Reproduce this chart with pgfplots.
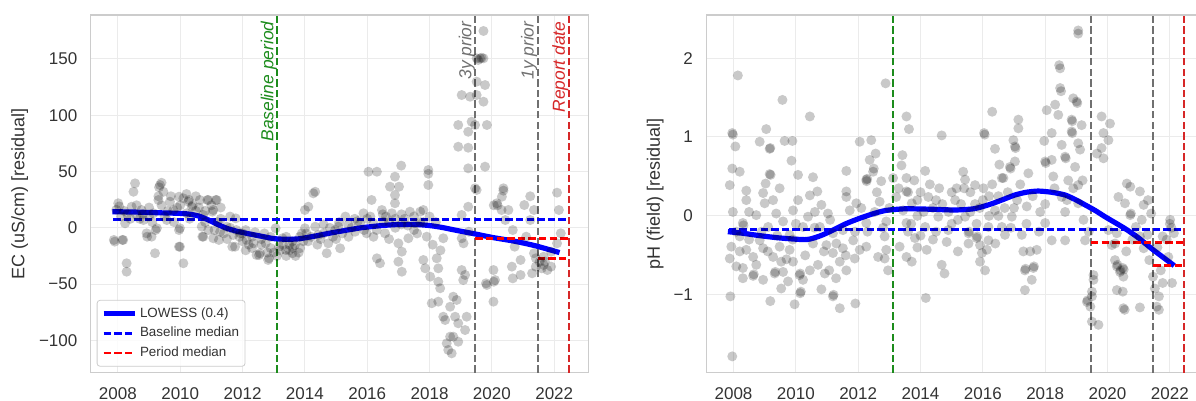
\documentclass[border=0pt]{standalone}
\usepackage{fontspec}
\setmainfont{Liberation Sans}
\usepackage{pgfplots}
\usepackage{pgfplotstable}
\pgfplotsset{compat=1.18}
\definecolor{tickc}{HTML}{333333}
\definecolor{framec}{HTML}{CCCCCC}
\definecolor{gridc}{HTML}{EBEBEB}
\definecolor{bgreen}{HTML}{1C8C1C}
\definecolor{lgray}{HTML}{707070}
\definecolor{rred}{HTML}{D62728}
\definecolor{pred}{HTML}{FF0000}
\definecolor{lblue}{HTML}{0000FF}

\pgfplotstableread{
x y
2008.01 21.8
2007.90 -12.3
2008.17 -10.8
2008.28 -31.5
2008.28 -39
2008.55 39.5
2008.50 32
2008.44 18.7
2008.23 4
2008.60 11.4
2008.82 6.9
2008.92 -4.9
2008.76 15.8
2009.14 12.9
2009.08 -7.9
2009.19 -22.6
2009.35 38
2009.46 32
2009.30 24.7
2009.25 -0.4
2009.67 23.2
2009.78 15.8
2009.57 6.9
2009.99 -0.4
2009.99 -16.8
2010.10 -31.5
2010.10 26.2
2010.26 23.2
2010.37 18.7
2010.21 12.9
2010.63 24.7
2010.74 11.4
2010.69 1
2010.74 -7.9
2010.90 24.7
2011.06 15.8
2011.17 24.7
2011.28 -3.5
2011.06 -9.3
2011.49 1
2011.70 -6.4
2011.92 -4.9
2011.76 -16.8
2012.13 -10.8
2012.45 -24.2
2012.35 -13.8
2009.32 36
2009.40 40
2008.04 19
2007.95 16
2010.28 24.7
2009.96 27.6
2010.87 24.7
2011.14 24.7
2011.03 14.3
2011.78 8.4
2009.96 -2
2009.96 -16.8
2009.21 -2
2008.94 -7.9
2010.71 -7.9
2011.24 -10.8
2011.67 -16.8
2012.53 -24.2
2012.85 -27.1
2013.17 -16.8
2013.39 -19.7
2013.60 -22.6
2013.28 -9.3
2012.74 -13.8
2012.31 -7.9
2012.10 -2
2013.06 -0.4
2008.14 -10.8
2007.87 -10.8
2012.56 -22.6
2012.82 -28.6
2013.30 -15
2013.50 -20
2013.70 -25
2013.85 -18
2013.95 -12
2013.40 -8
2013.60 -12
2014.05 -5
2008.30 12
2008.70 8
2009.00 10
2009.40 20
2009.60 15
2009.90 18
2010.40 20
2010.50 15
2010.80 5
2011.10 -2
2011.40 -5
2011.60 0
2011.90 -8
2012.00 -12
2012.20 -15
2012.60 -10
2012.90 -18
2013.00 -22
2012.70 -5
2011.30 8
2010.90 -2
2008.10 10
2008.20 15
2008.40 8
2008.60 20
2008.80 12
2009.00 18
2009.10 5
2009.30 28
2009.50 10
2009.70 28
2009.80 5
2010.00 20
2010.20 30
2010.30 8
2010.50 28
2010.60 18
2010.80 15
2011.00 20
2011.20 5
2011.30 18
2011.50 -10
2011.60 10
2011.80 -2
2012.00 -5
2012.10 -20
2012.30 -18
2012.40 -4
2012.60 -15
2012.80 -22
2012.90 -8
2013.10 -25
2013.20 -20
2013.40 -25
2013.50 -15
2013.60 -18
2013.80 -22
2013.90 -5
2014.10 -12
2014.20 -8
2014.40 -15
2014.60 -5
2014.80 0
2015.00 -10
2015.10 5
2015.40 -8
2015.60 8
2015.90 -2
2016.10 10
2016.20 -8
2016.50 12
2016.70 -10
2016.90 8
2017.10 12
2017.30 2
2017.50 10
2017.60 -5
2017.80 5
2018.10 -15
2018.20 5
2018.35 -20
2013.68 -15.3
2013.84 -7.9
2014.11 18.7
2014.27 30.6
2014.00 -0.4
2014.43 -6.4
2014.70 -22.6
2014.75 -13.8
2015.07 1
2015.13 -18.2
2015.39 2.5
2015.61 -3.5
2015.88 12.9
2015.98 -4.9
2016.14 24.7
2016.31 -27.1
2016.41 -31.5
2016.52 5.4
2016.57 -4.9
2016.79 12.9
2016.89 21.8
2016.89 29.1
2017.00 -13.8
2017.11 -21.2
2017.00 -30.1
2017.11 -39
2017.32 -9.3
2017.37 14.3
2017.53 4
2017.80 15.8
2017.80 -28.6
2017.91 -7.9
2017.86 -36
2018.02 -43.4
2018.23 -27.1
2018.28 -36
2018.28 -47.9
2018.34 -53.7
2018.07 -67
2018.28 -65.6
2018.44 -79
2018.50 -81.9
2018.55 -102.6
2018.60 -108.5
2018.71 -111.5
2018.66 -96.7
2018.66 -70.1
2018.82 -79
2018.87 -64.1
2018.76 -61.2
2018.92 -84.8
2019.03 -37.5
2019.08 -46.4
2019.19 -79
2019.14 -90.8
2018.92 -101.2
2018.76 -96.7
2019.14 -41.9
2019.24 18.7
2019.03 11.4
2019.03 -9.3
2018.44 -9.3
2017.70 14.3
2016.47 15.8
2016.20 4
2015.77 4
2014.97 -2
2014.33 1
2014.00 15.8
2020.05 -37.5
2019.84 -50.8
2020.10 -46.4
2020.05 -65.6
2020.16 21.8
2020.32 27.6
2020.53 15.8
2020.64 -34.5
2019.51 33.6
2014.50 -10
2014.90 -8
2015.20 -5
2015.50 0
2015.70 6
2016.00 8
2016.30 -2
2016.60 10
2016.90 0
2017.20 8
2017.50 -2
2017.70 5
2018.00 10
2014.60 3
2015.30 10
2016.70 5
2017.10 3
2014.33 32
2016.04 49.8
2016.31 49.8
2016.89 45.4
2017.09 55.2
2016.73 36.5
2017.02 36.5
2017.96 51.3
2017.96 48
2017.96 38
2019.24 52.8
2019.78 54.3
2018.92 72
2019.24 71.1
2018.92 91.3
2019.24 85.3
2019.35 94.2
2019.46 91.3
2019.84 91.3
2019.03 117.9
2019.30 116.4
2019.51 117.9
2019.73 112
2019.78 126.8
2019.51 129.8
2019.62 150.5
2019.73 150.5
2019.51 150.5
2019.56 149
2019.67 151
2019.73 174.8
2019.46 35.1
2020.37 35.1
2020.06 20
2020.18 20
2020.31 15.8
2020.43 6.9
2020.67 -2
2020.73 -16.8
2020.92 -28.6
2020.67 -44.9
2020.06 -47.9
2019.81 -49.3
2021.10 -7.9
2021.23 6.9
2021.35 15.8
2021.04 20.2
2021.35 -22.6
2021.41 -27.1
2021.53 -30.1
2021.66 -33
2021.78 -37.5
2021.90 -34.5
2021.66 -25.7
2021.90 -21.2
2022.09 -13.8
2022.21 -4.9
2022.15 15.8
2021.29 -40.4
2021.41 -34.5
2020.92 -41.9
2020.37 33
2022.09 31.2
2021.23 28
2019.09 -13.8
2019.26 -3.5
2021.60 -36
2021.70 -30
}\ECpts

\pgfplotstableread{
x y
2008.14 1.78
2007.96 1.05
2007.98 1.03
2008.06 0.88
2007.96 0.60
2008.20 0.56
2007.88 0.39
2008.41 0.32
2009.05 1.10
2008.84 0.94
2009.16 0.85
2009.18 0.86
2009.57 1.47
2009.64 0.95
2009.89 0.95
2009.86 0.70
2009.16 0.53
2009.19 0.52
2010.07 0.52
2010.55 0.49
2010.45 1.26
2009.03 0.41
2009.48 0.35
2010.69 0.31
2011.62 0.57
2011.62 0.31
2012.05 0.94
2012.42 0.96
2012.88 1.68
2012.56 0.79
2012.37 0.71
2012.48 0.56
2012.50 0.60
2012.26 0.46
2012.27 0.44
2012.29 0.47
2012.74 0.44
2013.12 0.48
2013.55 1.26
2013.63 1.10
2013.42 0.77
2013.39 0.64
2013.55 0.48
2013.55 0.31
2013.60 0.30
2014.15 0.57
2014.68 1.02
2015.37 0.56
2015.43 0.46
2015.16 0.35
2015.75 0.39
2016.04 1.05
2016.06 1.03
2016.30 1.32
2016.39 0.85
2016.53 0.65
2016.66 0.48
2016.87 0.62
2016.89 0.60
2017.03 0.88
2017.05 0.86
2016.98 0.96
2017.14 1.11
2017.14 1.22
2017.03 0.69
2017.46 0.54
2017.97 0.95
2018.00 0.69
2018.02 0.67
2018.05 1.34
2018.21 1.05
2018.26 0.50
2018.32 1.41
2018.42 1.28
2018.45 1.91
2018.48 1.87
2018.48 1.62
2018.51 1.58
2018.64 0.75
2018.66 0.73
2018.74 0.45
2018.85 1.22
2018.87 1.20
2018.85 1.07
2018.87 1.05
2018.90 1.49
2019.01 1.45
2019.03 1.43
2019.06 2.31
2019.06 2.35
2018.96 0.62
2019.06 0.92
2019.12 0.84
2019.17 1.15
2019.06 0.39
2018.53 0.90
2019.81 1.26
2020.08 1.17
2019.87 1.05
2020.03 0.96
2019.81 0.86
2019.87 0.73
2019.66 0.79
2020.62 0.41
2018.21 0.71
2016.61 0.48
2016.02 0.35
2020.73 0.37
2021.04 0.31
2007.96 -1.78
2007.90 -1.02
2009.18 -1.08
2009.96 -1.12
2010.14 -0.98
2010.16 -0.96
2010.82 -0.93
2011.19 -1.02
2011.21 -1.00
2011.41 -1.17
2011.91 -1.11
2008.30 -0.79
2008.63 -0.76
2008.65 -0.74
2008.09 -0.64
2007.88 -0.54
2007.93 -0.39
2008.30 -0.66
2008.73 -0.62
2008.95 -0.81
2009.32 -0.73
2009.34 -0.71
2009.59 -0.71
2009.75 -0.83
2010.12 -0.75
2010.14 -0.73
2010.23 -0.81
2009.53 -0.92
2009.91 -0.58
2009.53 -0.58
2009.27 -0.52
2008.63 -0.52
2008.41 -0.43
2008.95 -0.41
2009.80 -0.43
2010.45 -0.69
2010.71 -0.62
2010.93 -0.73
2011.07 -0.69
2011.29 -0.79
2011.41 -0.58
2011.62 -0.69
2011.89 -0.54
2010.55 -0.35
2010.98 -0.37
2011.19 -0.47
2011.51 -0.41
2011.84 -0.31
2012.26 -0.39
2012.85 -0.26
2012.90 -0.43
2012.96 -0.69
2012.85 -0.54
2012.64 -0.52
2013.33 -0.39
2013.55 -0.52
2008.09 -0.20
2008.30 -0.09
2008.32 -0.12
2007.98 0.05
2008.41 0.20
2008.73 0.01
2009.00 0.16
2009.37 0.03
2009.59 -0.07
2009.91 0.07
2010.07 0.20
2010.39 -0.01
2010.61 0.05
2010.82 0.14
2011.03 0.03
2010.77 -0.14
2010.23 -0.14
2009.11 -0.14
2008.84 -0.31
2009.80 -0.24
2011.51 -0.18
2011.73 0.07
2011.94 0.16
2011.62 0.24
2012.26 -0.09
2012.53 0.05
2012.69 0.18
2012.90 -0.07
2013.22 0.24
2013.44 0.07
2013.55 -0.09
2012.05 -0.43
2011.19 -0.22
2009.48 -0.39
2008.20 -0.26
2009.27 0.20
2010.45 0.26
2008.95 0.29
2008.20 -0.45
2008.50 -0.30
2008.50 0.05
2008.90 -0.20
2009.10 -0.45
2009.40 -0.25
2009.70 -0.55
2009.90 -0.30
2010.00 -0.10
2010.30 -0.50
2010.60 -0.15
2010.90 -0.45
2011.10 -0.05
2011.30 -0.35
2011.60 -0.50
2011.90 -0.20
2012.10 0.10
2012.30 -0.20
2012.60 0.30
2012.80 -0.15
2013.00 0.10
2013.30 0.35
2013.70 -0.10
2013.90 -0.40
2014.10 0.05
2014.30 0.40
2014.50 -0.20
2014.70 0.15
2015.00 0.30
2015.20 -0.05
2015.40 0.35
2015.60 0.05
2015.80 -0.10
2016.00 0.20
2016.20 0.00
2016.50 0.25
2016.70 0.10
2016.90 -0.15
2017.10 0.20
2017.40 -0.10
2017.60 0.25
2017.80 -0.20
2018.00 0.15
2018.30 0.35
2018.70 0.20
2018.90 0.35
2019.20 0.45
2019.40 -0.20
2020.60 -0.45
2020.80 -0.30
2021.10 -0.05
2021.30 0.20
2021.60 -0.40
2021.90 -0.30
2013.72 -0.58
2013.82 -0.28
2014.20 -0.43
2014.17 -1.04
2014.68 -0.62
2014.77 -0.73
2014.84 -0.33
2015.54 -0.35
2015.54 -0.22
2015.56 -0.20
2015.91 -0.37
2015.97 -0.47
2015.91 -0.58
2016.07 -0.69
2016.13 -0.43
2015.80 -0.28
2015.82 -0.26
2016.18 -0.31
2017.30 -0.45
2017.52 -0.45
2017.73 -0.43
2017.35 -0.69
2017.37 -0.67
2017.62 -0.66
2017.64 -0.64
2017.57 -0.81
2017.35 -0.94
2017.25 -0.24
2016.71 -0.24
2016.93 -0.01
2018.21 -0.31
2018.64 -0.31
2018.00 -0.09
2017.84 0.05
2017.41 0.12
2019.34 -1.09
2019.36 -1.07
2019.50 -1.02
2019.45 -1.15
2019.50 -0.96
2019.55 -0.81
2019.55 -0.75
2019.50 -1.34
2019.71 -1.38
2019.28 -0.31
2019.23 -0.05
2020.14 -0.37
2020.24 -0.56
2020.30 -0.64
2020.32 -0.62
2020.40 -0.71
2020.42 -0.69
2020.51 -0.77
2020.30 -0.94
2020.51 -1.17
2020.03 -0.18
2020.56 0.16
2020.35 0.24
2013.72 0.16
2014.25 0.24
2015.11 0.20
2014.57 -0.01
2015.43 -0.01
2016.39 0.07
2016.61 -0.14
2016.18 -0.14
2018.64 0.05
2018.53 0.24
2019.06 0.16
2014.15 -0.14
2014.89 -0.18
2013.90 0.00
2014.00 0.30
2014.40 0.10
2014.60 0.35
2014.90 0.05
2015.00 -0.10
2015.30 0.15
2015.60 0.30
2015.90 0.10
2016.20 0.25
2016.50 0.00
2016.80 0.30
2017.00 0.10
2017.20 0.40
2013.80 0.45
2014.40 -0.30
2015.20 -0.45
2016.40 -0.35
2013.60 -0.20
2014.00 -0.25
2014.50 0.20
2015.75 0.15
2016.30 0.40
2013.90 0.20
2020.55 -1.19
2021.04 -1.16
2020.49 -0.66
2020.52 -0.68
2020.49 -0.96
2020.73 0.01
2020.75 0.03
2020.91 -0.14
2021.04 -0.26
2021.16 -0.41
2021.28 -0.24
2021.34 -0.56
2021.46 -0.77
2021.52 -0.92
2021.65 -1.02
2021.58 -1.15
2021.65 -1.19
2021.77 -0.85
2021.71 -0.69
2021.95 -0.52
2022.01 -0.05
2022.13 -0.22
2022.07 -0.85
2021.40 0.03
2021.16 0.14
2021.77 -0.26
2020.30 -0.22
2020.24 -0.35
2022.00 -0.10
2022.05 -0.15
}\pHpts

\pgfplotstableread{
x y
2007.82 14.3
2008.50 14.0
2009.00 13.6
2009.50 13.2
2010.00 12.8
2010.30 12.1
2010.60 10.4
2010.90 7.0
2011.20 3.0
2011.50 -0.5
2011.85 -3.3
2012.20 -5.3
2012.60 -7.5
2013.00 -9.6
2013.40 -10.2
2013.80 -9.8
2014.30 -7.5
2014.75 -5.0
2015.30 -2.3
2015.80 0.0
2016.40 1.8
2016.90 2.8
2017.50 3.0
2018.00 2.0
2018.40 0.3
2018.90 -2.5
2019.47 -5.5
2020.00 -8.5
2020.74 -12.0
2021.40 -16.0
2022.17 -22.0
}\EClow

\pgfplotstableread{
x y
2007.82 -0.20
2008.30 -0.22
2008.84 -0.25
2009.50 -0.28
2010.34 -0.30
2010.80 -0.25
2011.19 -0.18
2011.60 -0.10
2012.05 -0.03
2012.50 0.03
2012.90 0.07
2013.50 0.09
2014.30 0.085
2015.10 0.075
2015.70 0.09
2016.18 0.14
2016.60 0.20
2017.03 0.265
2017.40 0.30
2017.78 0.315
2018.20 0.30
2018.64 0.265
2019.00 0.20
2019.28 0.14
2019.60 0.07
2019.92 -0.01
2020.56 -0.16
2021.00 -0.28
2021.40 -0.41
2022.14 -0.63
}\pHlow

\pgfplotsset{
  panel/.style={
    scale only axis, width=248.75pt, height=178.85pt,
    xmin=2007.127, xmax=2023.09,
    xtick={2008,2010,2012,2014,2016,2018,2020,2022},
    xticklabels={2008,2010,2012,2014,2016,2018,2020,2022},
    grid=major, major grid style={draw=gridc, line width=0.5pt},
    axis line style={draw=framec, line width=0.6pt},
    major tick length=0pt,
    tick label style={font=\fontsize{8.5}{10}\selectfont, text=tickc},
    xticklabel style={anchor=north, inner sep=0pt, yshift=-7.1pt},
    yticklabel style={anchor=east, inner sep=0pt, xshift=-6.5pt},
    label style={font=\fontsize{9}{11}\selectfont, text=tickc, inner sep=0pt},
    clip=false,
  },
  pts/.style={only marks, mark=*, mark size=2.5pt,
    mark options={fill=black, fill opacity=0.21, draw opacity=0}, forget plot},
  vl/.style={line width=1pt, dash pattern=on 3.7pt off 1.6pt, forget plot},
  hd/.style={line width=1.3pt, dash pattern=on 3.7pt off 1.6pt},
}
\tikzset{
  ann/.style={rotate=90, anchor=south east, inner sep=0pt,
    font=\itshape\fontsize{8.7}{10}\selectfont},
}

\begin{document}
\begin{tikzpicture}
\useasboundingbox (0,0) rectangle (598pt,-200.5pt);

% ---------------- left panel ----------------
\begin{axis}[panel,
  at={(45.35pt,-186.35pt)}, anchor=south west,
  ymin=-128.7, ymax=189,
  ytick={-100,-50,0,50,100,150},
  yticklabels={−100,−50,0,50,100,150},
  ylabel={EC (uS/cm) [residual]},
  ylabel style={at={(axis description cs:-0.125,0.5)}, anchor=south},
  legend style={at={(axis description cs:0,0)}, anchor=south west,
    xshift=3pt, yshift=3pt, draw=framec, fill=white, fill opacity=0.8,
    text opacity=1, draw opacity=1, rounded corners=1.5pt,
    font=\fontsize{6.7}{8}\selectfont, text=tickc,
    inner xsep=2pt, inner ysep=2.5pt, row sep=1.25pt,
    nodes={inner sep=1pt, text height=5pt, text depth=1.5pt}},
  legend cell align=left,
  legend image code/.code={\draw[#1] (0pt,0pt) -- (15.85pt,0pt);},
]
\addplot[pts] table[x=x,y=y] {\ECpts};
\addplot[vl, bgreen] coordinates {(2013.12,-128.7) (2013.12,189)};
\addplot[vl, lgray] coordinates {(2019.47,-128.7) (2019.47,189)};
\addplot[vl, lgray] coordinates {(2021.47,-128.7) (2021.47,189)};
\addplot[vl, rred] coordinates {(2022.47,-128.7) (2022.47,189)};
\addplot[lblue, line width=2.6pt, smooth, tension=0.4] table[x=x,y=y] {\EClow};
\addlegendentry{LOWESS (0.4)}
\addplot[lblue, hd] coordinates {(2007.85,7.2) (2022.47,7.2)};
\addlegendentry{Baseline median}
\addplot[pred, hd] coordinates {(2019.47,-9.3) (2022.47,-9.3)};
\addlegendentry{Period median}
\addplot[pred, hd, forget plot] coordinates {(2021.47,-27.1) (2022.47,-27.1)};
\node[ann, text=bgreen] at (axis cs:2013.12,183.5) {Baseline period};
\node[ann, text=lgray] at (axis cs:2019.47,183.5) {3y prior};
\node[ann, text=lgray] at (axis cs:2021.47,183.5) {1y prior};
\node[ann, text=rred] at (axis cs:2022.47,183.5) {Report date};
\end{axis}

% ---------------- right panel ----------------
\begin{axis}[panel,
  at={(353.15pt,-186.35pt)}, anchor=south west,
  ymin=-1.987, ymax=2.546,
  ytick={-1,0,1,2},
  yticklabels={−1,0,1,2},
  ylabel={pH (field) [residual]},
  ylabel style={at={(axis description cs:-0.085,0.5)}, anchor=south},
]
\addplot[pts] table[x=x,y=y] {\pHpts};
\addplot[vl, bgreen] coordinates {(2013.12,-1.987) (2013.12,2.546)};
\addplot[vl, lgray] coordinates {(2019.47,-1.987) (2019.47,2.546)};
\addplot[vl, lgray] coordinates {(2021.47,-1.987) (2021.47,2.546)};
\addplot[vl, rred] coordinates {(2022.47,-1.987) (2022.47,2.546)};
\addplot[lblue, line width=2.6pt, smooth, tension=0.4] table[x=x,y=y] {\pHlow};
\addplot[lblue, hd] coordinates {(2007.85,-0.17) (2022.47,-0.17)};
\addplot[pred, hd] coordinates {(2019.47,-0.335) (2022.47,-0.335)};
\addplot[pred, hd] coordinates {(2021.47,-0.63) (2022.47,-0.63)};
\end{axis}
\end{tikzpicture}
\end{document}
